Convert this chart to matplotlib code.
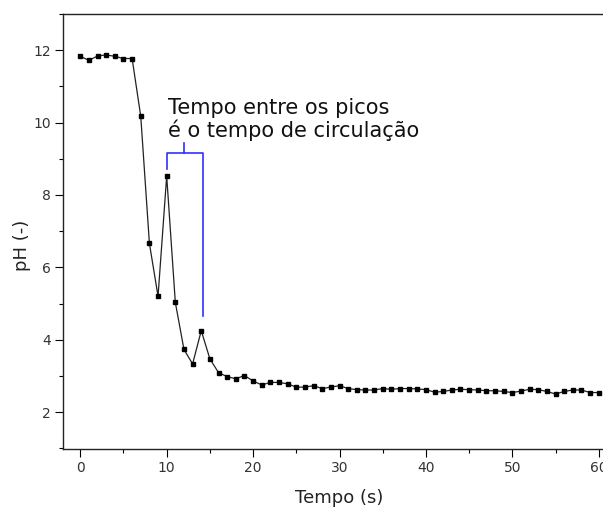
import matplotlib
matplotlib.use('Agg')
import matplotlib.pyplot as plt
from matplotlib.ticker import MultipleLocator

# pH ao longo do tempo (um ponto por segundo)
tempo = list(range(0, 61))
ph = [11.83, 11.72, 11.84, 11.87, 11.83, 11.77, 11.77, 10.17, 6.66, 5.20,
      8.52, 5.03, 3.73, 3.33, 4.25, 3.47, 3.09, 2.98, 2.92, 3.01,
      2.86, 2.75, 2.82, 2.82, 2.78, 2.69, 2.69, 2.73, 2.65, 2.69,
      2.73, 2.65, 2.62, 2.61, 2.61, 2.65, 2.63, 2.65, 2.65, 2.64,
      2.62, 2.55, 2.57, 2.61, 2.63, 2.62, 2.61, 2.59, 2.59, 2.57,
      2.54, 2.58, 2.63, 2.62, 2.57, 2.50, 2.57, 2.61, 2.61, 2.54,
      2.54]

# colchete entre os dois picos
pico1, pico2 = 10, 14.2
y_topo = 9.16
y_base1, y_base2 = 8.72, 4.66
y_marca = 9.43

fig = plt.figure(figsize=(6.03, 5.09), dpi=100)
ax = fig.add_axes([63/603, 60/509, 553/603, 435/509])

ax.plot(tempo, ph, color='#222222', linewidth=0.9, marker='s',
        markersize=3.2, markerfacecolor='black', markeredgecolor='black')

azul = '#3030ff'
ax.plot([pico1, pico1, pico2, pico2], [y_base1, y_topo, y_topo, y_base2],
        color=azul, linewidth=1.2)
ax.plot([(pico1 + pico2) / 2 - 0.1] * 2, [y_topo, y_marca], color=azul, linewidth=1.2)

ax.text(10.19, 9.61, 'Tempo entre os picos\né o tempo de circulação',
        fontsize=15, ha='left', va='baseline', linespacing=1.05, color='#111111')

ax.set_xlim(-2, 62)
ax.set_ylim(0.98, 13.0)
ax.xaxis.set_major_locator(MultipleLocator(10))
ax.xaxis.set_minor_locator(MultipleLocator(5))
ax.yaxis.set_major_locator(MultipleLocator(2))
ax.yaxis.set_minor_locator(MultipleLocator(1))
ax.tick_params(which='major', direction='out', length=5.5, width=0.8,
               labelsize=10, pad=3, labelcolor='#333333')
ax.tick_params(which='minor', direction='out', length=3, width=0.8)
ax.tick_params(top=False, right=False)
ax.spines['right'].set_visible(False)
for s in ['left', 'bottom', 'top']:
    ax.spines[s].set_linewidth(1.0)
    ax.spines[s].set_color('#222222')

ax.set_xlabel('Tempo (s)', fontsize=13, color='#222222')
ax.set_ylabel('pH (-)', fontsize=13, color='#222222')
ax.xaxis.set_label_coords(0.5, -0.092)
ax.yaxis.set_label_coords(-0.057, 0.467)

fig.savefig('out.png', dpi=100)
